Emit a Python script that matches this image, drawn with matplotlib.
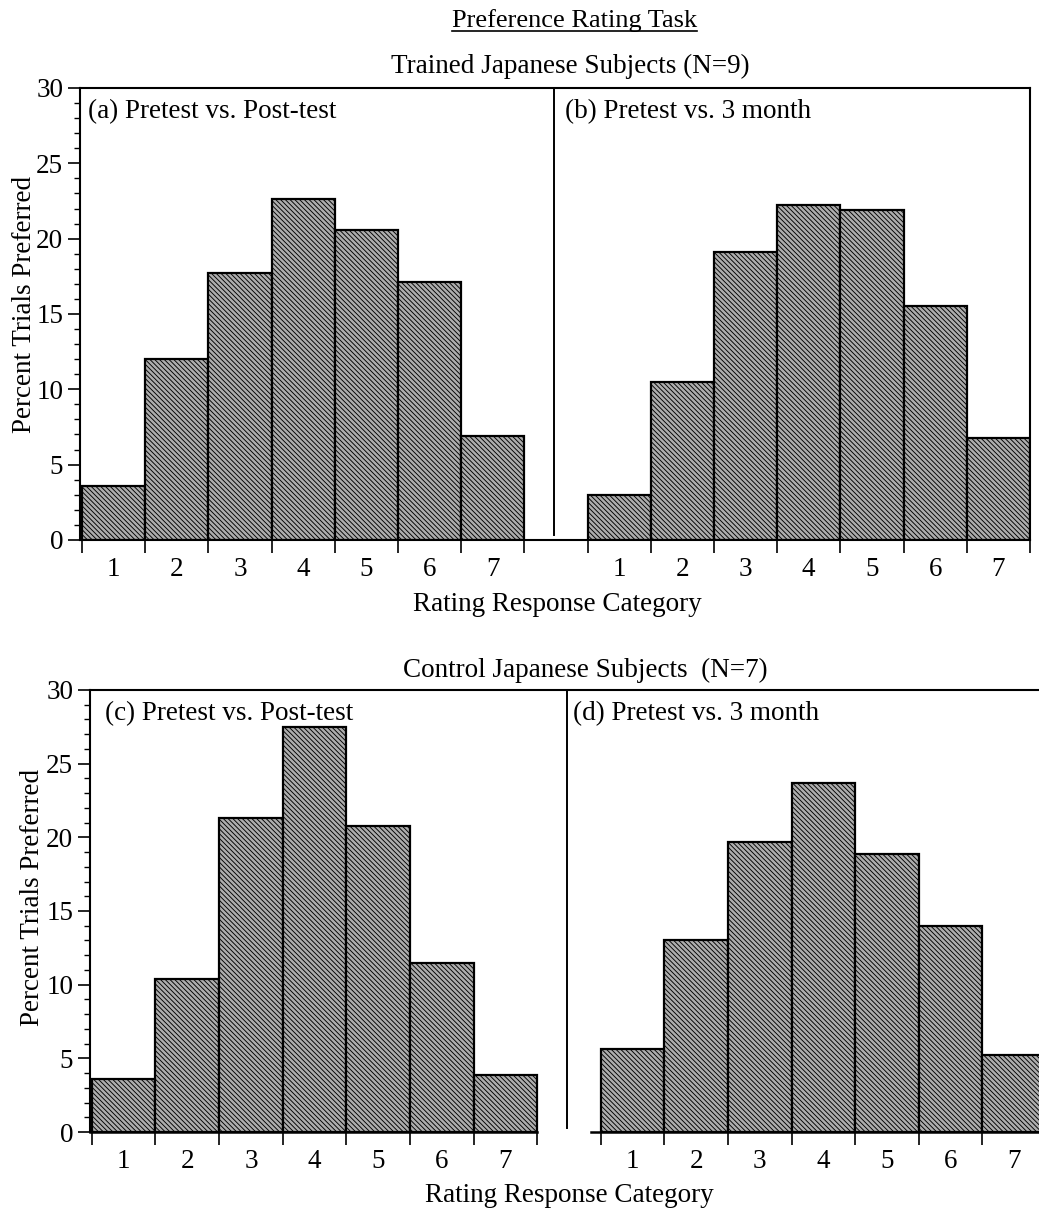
import numpy as np
import matplotlib
matplotlib.use("Agg")
import matplotlib.pyplot as plt
from matplotlib.ticker import MultipleLocator, FixedLocator, FixedFormatter, NullFormatter
from matplotlib.lines import Line2D

# values (percent of trials)
categories = [1, 2, 3, 4, 5, 6, 7]
tick_labels = ["1", "2", "3", "4", "5", "6", "7"]
trained_post = [3.6, 12.0, 17.7, 22.6, 20.6, 17.1, 6.9]
trained_3mo = [3.0, 10.5, 19.1, 22.2, 21.9, 15.5, 6.8]
control_post = [3.6, 10.4, 21.3, 27.5, 20.8, 11.5, 3.9]
control_3mo = [5.6, 13.0, 19.7, 23.7, 18.9, 14.0, 5.2]

plt.rcParams['font.family'] = 'serif'
plt.rcParams['font.serif'] = ['Liberation Serif', 'DejaVu Serif']
plt.rcParams['hatch.linewidth'] = 0.65

FS = 19.5
OFFSET = 8  # second histogram sits 8 categories to the right

fig = plt.figure(figsize=(10.39, 12.12), dpi=100)
axTop = fig.add_axes([0.077, 0.5545, 0.9143, 0.3729])
axBot = fig.add_axes([0.0866, 0.066, 0.9134, 0.3647])


def drawRow(ax, leftVals, rightVals, leftName, rightName, xmax, nameX):
    cats = np.array(categories)
    for pos, vals in [(cats, leftVals), (cats + OFFSET, rightVals)]:
        ax.bar(pos, vals, width=1.0, facecolor='#adadad', edgecolor='black',
               linewidth=1.6, hatch='\\' * 7, zorder=2)
    ax.axvline(OFFSET - 0.03, ymin=0.01, ymax=1, color='black', lw=1.4)
    ax.set_ylim(0, 30)
    ax.set_xlim(0.47, xmax)

    ax.yaxis.set_major_locator(MultipleLocator(5))
    ax.yaxis.set_minor_locator(MultipleLocator(1))
    ax.tick_params(axis='y', which='major', length=9, width=1.2, direction='out',
                   labelsize=FS, pad=3)
    ax.tick_params(axis='y', which='minor', length=4, width=1.0, direction='out')

    edges = [c - 0.5 for c in categories] + [categories[-1] + 0.5]
    edges = edges + [e + OFFSET for e in edges]
    ax.xaxis.set_major_locator(FixedLocator(edges))
    ax.xaxis.set_major_formatter(NullFormatter())
    centers = list(categories) + [c + OFFSET for c in categories]
    ax.xaxis.set_minor_locator(FixedLocator(centers))
    ax.xaxis.set_minor_formatter(FixedFormatter(tick_labels + tick_labels))
    ax.tick_params(axis='x', which='major', length=9, width=1.2, direction='out')
    ax.tick_params(axis='x', which='minor', length=0, labelsize=FS, pad=12)

    for s in ax.spines.values():
        s.set_linewidth(1.5)

    # panel names: data x, axes y
    ax.text(nameX[0], 0.975, leftName, transform=ax.get_xaxis_transform(),
            fontsize=FS, va='top', ha='left')
    ax.text(nameX[1], 0.975, rightName, transform=ax.get_xaxis_transform(),
            fontsize=FS, va='top', ha='left')
    ax.set_ylabel("Percent Trials Preferred", fontsize=FS)
    ax.set_xlabel("Rating Response Category", fontsize=FS)


drawRow(axTop, trained_post, trained_3mo,
        "(a) Pretest vs. Post-test", "(b) Pretest vs. 3 month", 15.5, (0.6, 8.15))
drawRow(axBot, control_post, control_3mo,
        "(c) Pretest vs. Post-test", "(d) Pretest vs. 3 month", 15.39, (0.7, 8.07))

axTop.yaxis.set_label_coords(-0.045, 0.52)
axTop.xaxis.set_label_coords(0.503, -0.115)
axBot.yaxis.set_label_coords(-0.047, 0.53)
axBot.xaxis.set_label_coords(0.505, -0.115)

# bottom row: no right spine, base line broken at the separator
axBot.spines['right'].set_visible(False)
axBot.spines['bottom'].set_visible(False)
axBot.plot([0.47, 7.5], [0, 0], color='black', lw=1.8, clip_on=False, zorder=3)
axBot.plot([8.35, 15.39], [0, 0], color='black', lw=1.8, clip_on=False, zorder=3)

title = fig.text(0.553, 0.983, "Preference Rating Task", fontsize=19, ha='center', va='center')
fig.text(0.549, 0.945, "Trained Japanese Subjects (N=9)", fontsize=FS, ha='center', va='center')
fig.text(0.563, 0.447, "Control Japanese Subjects  (N=7)", fontsize=FS, ha='center', va='center')

fig.canvas.draw()
bb = title.get_window_extent(fig.canvas.get_renderer())
bb = bb.transformed(fig.transFigure.inverted())
fig.add_artist(Line2D([bb.x0, bb.x1], [bb.y0 + 0.001, bb.y0 + 0.001],
                      transform=fig.transFigure, color='black', lw=1.2))

fig.savefig("out.png", dpi=100)
